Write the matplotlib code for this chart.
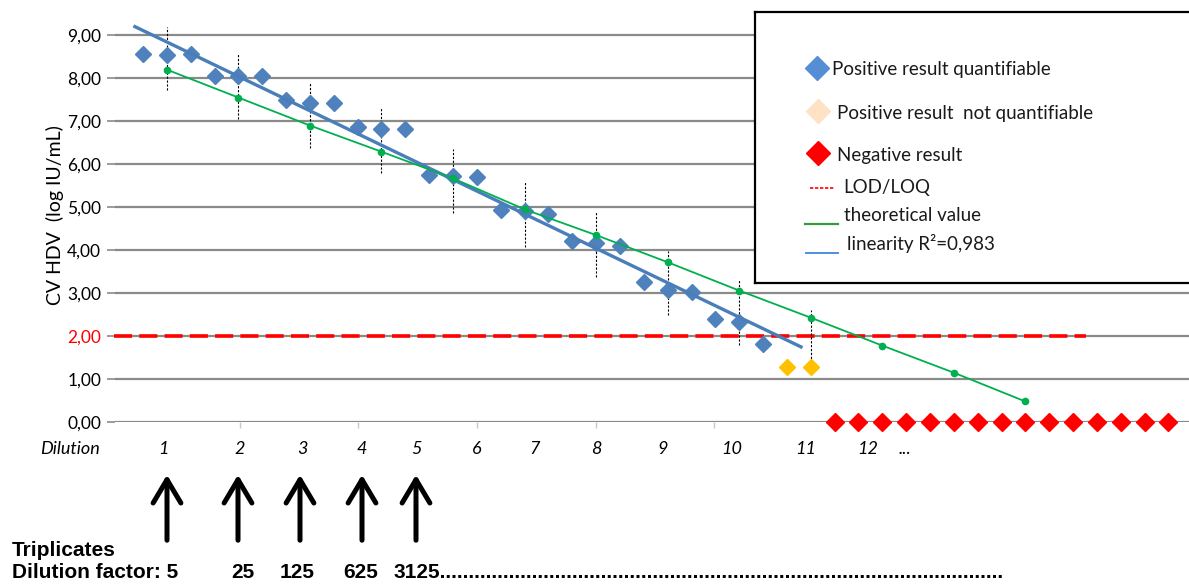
import matplotlib
matplotlib.use("Agg")
import matplotlib.pyplot as plt

plt.rcParams["font.family"] = ["Lato", "DejaVu Sans"]

# ==============================
# Data
# ==============================

pos_idx = list(range(27))
pos_val = [8.55, 8.52, 8.55, 8.05, 8.05, 8.05, 7.48, 7.42, 7.42,
           6.85, 6.82, 6.82, 5.74, 5.71, 5.70, 4.92, 4.90, 4.82,
           4.21, 4.15, 4.09, 3.26, 3.06, 3.02, 2.38, 2.33, 1.81]

nq_idx = [27, 28]
nq_val = [1.28, 1.27]

neg_idx = list(range(29, 44))
neg_val = [0.0] * 15

theo_idx = [1, 4, 7, 10, 13, 16, 19, 22, 25, 28, 31, 34, 37]
theo_val = [8.19, 7.54, 6.89, 6.28, 5.66, 4.94, 4.34, 3.71, 3.05,
            2.42, 1.77, 1.14, 0.47]

# spread of each triplicate (dashed verticals)
spread_idx = [1, 4, 7, 10, 13, 16, 19, 22, 25, 28]
spread_top = [9.17, 8.57, 7.90, 7.32, 6.34, 5.58, 4.88, 3.98, 3.30, 2.60]
spread_bot = [7.71, 7.04, 6.36, 5.78, 4.85, 4.07, 3.37, 2.48, 1.78, 1.11]

lin_idx = [-0.34, 27.59]
lin_val = [9.19, 1.74]

lod_idx = [-1.2, 39.54]
lod_val = [2.0, 2.0]

y_ticks = [0, 1, 2, 3, 4, 5, 6, 7, 8, 9]
y_labels = ["0,00", "1,00", "2,00", "3,00", "4,00", "5,00",
            "6,00", "7,00", "8,00", "9,00"]

dil_labels = ["1", "2", "3", "4", "5", "6", "7", "8", "9", "10", "11", "12", "..."]
dil_pos = [0.84, 4.07, 6.67, 9.18, 11.45, 14.0, 16.4, 19.0, 21.8, 24.7, 27.8, 30.4, 31.95]
tick_marks = [4.05, 9.0, 14.0, 19.0, 23.95]

factors = [5, 25, 125, 625, 3125]
arrow_px = [167, 238, 300, 362, 416]

# ==============================
# Colours
# ==============================

BLUE = "#4F81BD"
ORANGE = "#FFC000"
RED = "#FF0000"
GREEN = "#00B050"
GRID = "#8A8A8A"

W, H = 1189, 585
fig = plt.figure(figsize=(W / 100, H / 100), dpi=100)
ax = fig.add_axes([115 / W, 1 - 421.7 / H, 1 - 115 / W, (421.7 - 9) / H])

ax.set_xlim(-1.174, 43.86)
ax.set_ylim(0, 9.6)

for s in ax.spines.values():
    s.set_visible(False)

ax.set_yticks(y_ticks)
ax.set_yticklabels(y_labels, fontsize=12.5)
ax.get_yticklabels()[2].set_color(RED)
ax.tick_params(axis="y", length=6, width=1.2, color=GRID, pad=4)
ax.yaxis.grid(True, color=GRID, linewidth=1.6)
ax.set_axisbelow(True)

ax.xaxis.remove_overlapping_locs = False
ax.set_xticks(tick_marks)
ax.set_xticklabels([])
ax.tick_params(axis="x", which="major", length=4, color="#C8C8C8", width=1)
ax.set_xticks(dil_pos, minor=True)
ax.set_xticklabels(dil_labels, minor=True, fontsize=13, style="italic")
ax.tick_params(axis="x", which="minor", length=0, pad=14)

ax.set_ylabel("CV HDV  (log IU/mL)", fontsize=14, labelpad=2)

# ==============================
# Plotting
# ==============================

ax.plot(lod_idx, lod_val, color=RED, linestyle=(0, (5, 2)), linewidth=2.6,
        zorder=2, clip_on=False)

for xi, t, b in zip(spread_idx, spread_top, spread_bot):
    ax.plot([xi, xi], [b, t], color="black", linestyle=(0, (2, 1.5)),
            linewidth=0.8, zorder=3)

ax.plot(pos_idx, pos_val, linestyle="none", marker="D", markersize=8,
        color=BLUE, zorder=4)
ax.plot(nq_idx, nq_val, linestyle="none", marker="D", markersize=8,
        color=ORANGE, zorder=4)
ax.plot(neg_idx, neg_val, linestyle="none", marker="D", markersize=8.8,
        color=RED, zorder=4, clip_on=False)

ax.plot(lin_idx, lin_val, color="#4A7EBB", linewidth=2.4, zorder=5)
ax.plot(theo_idx, theo_val, color=GREEN, linewidth=1.3, marker="o",
        markersize=4.5, zorder=6)

fig.text(70 / W, 1 - 449 / H, "Dilution", ha="center", va="center",
         fontsize=13, style="italic")

# ==============================
# Legend box (drawn by hand)
# ==============================

lax = fig.add_axes([755 / W, 1 - 283 / H, (W + 20 - 755) / W, (283 - 12) / H])
lax.set_xlim(755, W + 20)
lax.set_ylim(283, 12)
lax.set_xticks([])
lax.set_yticks([])
for s in lax.spines.values():
    s.set_linewidth(1.6)
    s.set_color("black")

lax.plot([817], [68], marker="D", markersize=12, color="#558ED5", linestyle="none")
lax.plot([818], [111], marker="D", markersize=12, color="#FDE3C4", linestyle="none")
lax.plot([818], [153], marker="D", markersize=12, color=RED, linestyle="none")
lax.plot([810, 835], [188, 188], color=RED, linestyle=(0, (2, 1)), linewidth=1.2)
lax.plot([805, 838], [224, 224], color="#2E9E3A", linewidth=1.6)
lax.plot([806, 838], [253, 253], color="#4F8FE0", linewidth=1.4)

leg_txt = dict(fontsize=13.5, va="center", ha="left", color="#1A1A1A")
lax.text(832, 70, "Positive result quantifiable", **leg_txt)
lax.text(837, 113, "Positive result  not quantifiable", **leg_txt)
lax.text(837, 155, "Negative result", **leg_txt)
lax.text(843, 187, "LOD/LOQ", **leg_txt)
lax.text(844, 215, "theoretical value", **leg_txt)
lax.text(847, 243, "linearity R\u00b2=0,983", **leg_txt)

# ==============================
# Arrows and dilution factors
# ==============================

for xp in arrow_px:
    ax.annotate("", xy=(xp, H - 472), xytext=(xp, H - 543),
                xycoords="figure pixels", textcoords="figure pixels",
                arrowprops=dict(arrowstyle="->, head_length=0.42, head_width=0.25",
                                lw=3.6, color="black", mutation_scale=40))

bold = dict(family=["Liberation Sans", "DejaVu Sans"], fontweight="bold",
            fontsize=15, va="center")
fig.text(12 / W, 1 - 550 / H, "Triplicates", ha="left", **bold)
fig.text(12 / W, 1 - 572 / H, "Dilution factor: %d" % factors[0], ha="left", **bold)
for xp, f in zip([243, 297, 361], factors[1:4]):
    fig.text(xp / W, 1 - 572 / H, str(f), ha="center", **bold)
fig.text(393 / W, 1 - 572 / H, str(factors[4]) + "." * 98, ha="left", **bold)

fig.savefig("out.png", dpi=100)
